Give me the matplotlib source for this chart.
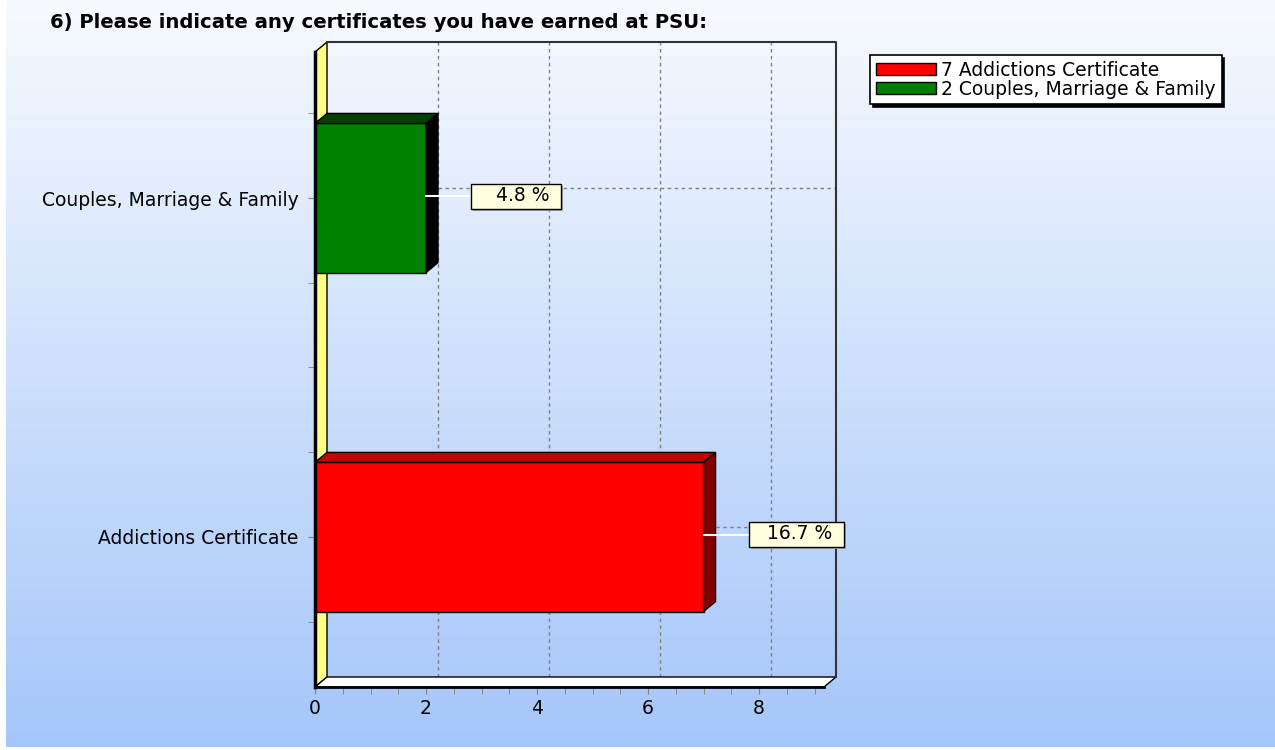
import numpy as np
import matplotlib
matplotlib.use("Agg")
import matplotlib.pyplot as plt
from matplotlib.patches import Polygon, Rectangle
from matplotlib.lines import Line2D
from matplotlib.transforms import IdentityTransform

# survey answers, bottom to top
categories = ["Addictions Certificate", "Couples, Marriage & Family"]
counts = [7, 2]
percents = [16.7, 4.8]
title = "6) Please indicate any certificates you have earned at PSU:"

front_colors = ["#FF0000", "#008000"]
top_colors = ["#C40000", "#004000"]
side_colors = ["#800000", "#000000"]

W, H = 1275, 750
DEPTH = np.array([12.0, 10.0])   # pseudo-3d offset of the back plane, pixels
XMAX = 9.17
YLIM = (-0.4425, 1.4307)
BAR_H = 0.44
FS = 13.5

plt.rcParams["font.family"] = ["DejaVu Sans"]
fig = plt.figure(figsize=(W / 100, H / 100), dpi=100)

# gradient backdrop
bg = fig.add_axes([6 / W, 3 / H, 1 - 6 / W, 747 / H], zorder=-10)
c_top = np.array([247, 250, 254]) / 255
c_bot = np.array([165, 198, 250]) / 255
t = np.linspace(0, 1, 256)[:, None, None]
bg.imshow(c_top + (c_bot - c_top) * t, aspect="auto", extent=[0, 1, 0, 1])
bg.axis("off")

ax = fig.add_axes([315 / W, 1 - 687 / H, (824 - 315) / W, (687 - 52) / H])
ax.set_facecolor("none")
ax.set_xlim(0, XMAX)
ax.set_ylim(*YLIM)


def back(x, y):
    p = ax.transData.transform((x, y)) + DEPTH
    return ax.transData.inverted().transform(p)


y0, y1 = YLIM
ypos = np.arange(len(categories))

# left wall and floor
ax.add_patch(Polygon([(0, y0), back(0, y0), back(0, y1), (0, y1)],
                     fc="#FFFF88", ec="black", lw=1, zorder=1, clip_on=False))
ax.add_patch(Polygon([(0, y0), (XMAX, y0), back(XMAX, y0), back(0, y0)],
                     fc="white", ec="black", lw=1, zorder=1, clip_on=False))
tl, tr, br = back(0, y1), back(XMAX, y1), back(XMAX, y0)
ax.plot([tl[0], tr[0], br[0]], [tl[1], tr[1], br[1]], color="#333333",
        lw=1.5, zorder=1, clip_on=False)

# dashed grid on the back plane
for gx in [2, 4, 6, 8]:
    a, b = back(gx, y0), back(gx, y1)
    ax.plot([a[0], b[0]], [a[1], b[1]], color="#808080", lw=1,
            ls=(0, (2.5, 2.5)), zorder=0.5, clip_on=False)
for c in ypos:
    a, b = back(0, c), back(XMAX, c)
    ax.plot([a[0], b[0]], [a[1], b[1]], color="#808080", lw=1,
            ls=(0, (2.5, 2.5)), zorder=0.5, clip_on=False)

bars = ax.barh(ypos, counts, height=BAR_H, color=front_colors,
               edgecolor="black", lw=1, zorder=4)
for c, v, tc, sc in zip(ypos, counts, top_colors, side_colors):
    lo, hi = c - BAR_H / 2, c + BAR_H / 2
    ax.add_patch(Polygon([(0, hi), (v, hi), back(v, hi), back(0, hi)],
                         fc=tc, ec="black", lw=1, zorder=4, clip_on=False))
    ax.add_patch(Polygon([(v, lo), back(v, lo), back(v, hi), (v, hi)],
                         fc=sc, ec="black", lw=1, zorder=4, clip_on=False))

# axes
for s in ["top", "right"]:
    ax.spines[s].set_visible(False)
ax.spines["left"].set_linewidth(2.5)
ax.spines["bottom"].set_linewidth(2)
ax.spines["left"].set_zorder(5)
ax.spines["bottom"].set_zorder(5)
ax.set_yticks(ypos, labels=categories)
ax.set_yticks([-0.25, 0.25, 0.5, 0.75, 1.25], minor=True)
ax.set_xticks([0, 2, 4, 6, 8])
ax.set_xticks(np.arange(0, 9.01, 0.5), minor=True)
ax.tick_params(which="both", color="#808080", labelsize=FS, labelcolor="black",
               direction="out", length=5)
ax.tick_params(axis="y", pad=7)
ax.tick_params(axis="x", pad=4)

# percentage call-outs
fig.canvas.draw()
renderer = fig.canvas.get_renderer()
for c, v, p in zip(ypos, counts, percents):
    px, py = ax.transData.transform((v, c))
    py += 2
    txt = ax.text(0, 0, f"{p:.1f} %", fontsize=FS, ha="right", va="center",
                  transform=IdentityTransform(), zorder=8, clip_on=False)
    tw = txt.get_window_extent(renderer).width
    w = max(90, tw + 30)
    bx = px + 45
    txt.set_position((bx + w - 12, py + 1))
    ax.add_line(Line2D([px, bx], [py, py], color="white", lw=1.5,
                       transform=IdentityTransform(), zorder=5, clip_on=False))
    ax.add_patch(Rectangle((bx + 2, py - 14.5), w, 25, fc="#A8A8A8", ec="none",
                           transform=IdentityTransform(), zorder=6, clip_on=False))
    ax.add_patch(Rectangle((bx, py - 12.5), w, 25, fc="#FFFFE0", ec="black", lw=1,
                           transform=IdentityTransform(), zorder=7, clip_on=False))

leg = fig.legend(handles=list(bars),
                 labels=[f"{n} {cat}" for n, cat in zip(counts, categories)],
                 loc="upper left", bbox_to_anchor=(870 / W, 1 - 55 / H),
                 fontsize=FS, frameon=True, fancybox=False, edgecolor="black",
                 framealpha=1, shadow={"color": "black", "alpha": 1},
                 borderaxespad=0, borderpad=0.3, labelspacing=0.0,
                 handlelength=3.2, handleheight=0.6, handletextpad=0.3)
leg.get_frame().set_linewidth(1.2)

fig.text(50 / W, 1 - 22 / H, title, fontsize=14.1, fontweight="bold", va="center")

fig.savefig("out.png", dpi=100)
